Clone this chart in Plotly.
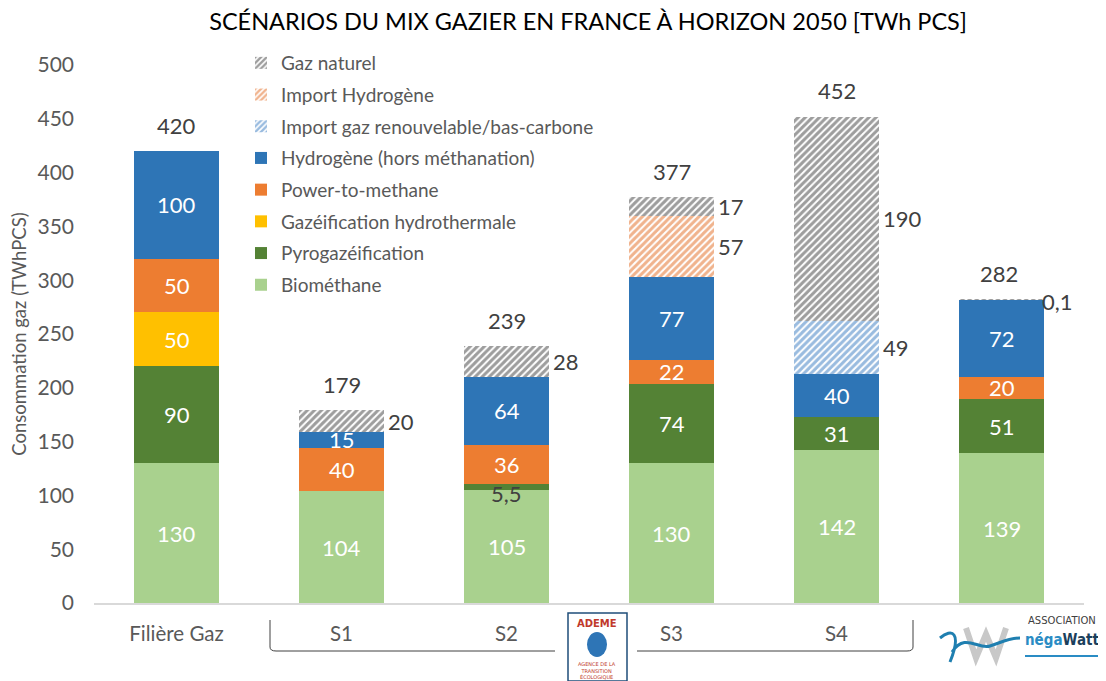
import plotly.graph_objects as go

categories = ["Filière Gaz", "S1", "S2", "S3", "S4", "négaWatt"]
tick_labels = ["Filière Gaz", "S1", "S2", "S3", "S4", " "]

biomethane = [130, 104, 105, 130, 142, 139]
pyrogazeification = [90, 0, 5.5, 74, 31, 51]
gazeification_hydro = [50, 0, 0, 0, 0, 0]
power_to_methane = [50, 40, 36, 22, 0, 20]
hydrogene = [100, 15, 64, 77, 40, 72]
import_gaz_renouv = [0, 0, 0, 0, 49, 0]
import_hydrogene = [0, 0, 0, 57, 0, 0]
gaz_naturel = [0, 20, 28, 17, 190, 0.1]

series = [
    ("Biométhane", biomethane, "#A9D18E", None),
    ("Pyrogazéification", pyrogazeification, "#548235", None),
    ("Gazéification hydrothermale", gazeification_hydro, "#FFC000", None),
    ("Power-to-methane", power_to_methane, "#ED7D31", None),
    ("Hydrogène (hors méthanation)", hydrogene, "#2E75B6", None),
    ("Import gaz renouvelable/bas-carbone", import_gaz_renouv, "#3478C0", "/"),
    ("Import Hydrogène", import_hydrogene, "#E2671C", "/"),
    ("Gaz naturel", gaz_naturel, "#3C3C3C", "/"),
]

FONT = "Lato"
OFF = 8  # page body margin offset
W, H = 1106, 681
# target plot area in screenshot pixels: x 94..1084, y 65..603
L = 94 - OFF
R = W - (1084 - OFF)
T = 65 - OFF
B = H - (603 - OFF)


def px(X):
    return (X - OFF - L) / (W - L - R)


def py(Y):
    return (H - B - (Y - OFF)) / (H - B - T)


def fmt(v):
    if float(v).is_integer():
        return str(int(v))
    return str(v).replace(".", ",")


LBL = 22
DARK = "#404040"
fig = go.Figure()
n = len(series)
for i, (name, vals, color, pat) in enumerate(series):
    if pat:
        marker = dict(color="white", pattern=dict(shape=pat, fgcolor=color, bgcolor="white",
                                                  size=5, solidity=0.6, fillmode="overlay"),
                      line=dict(width=0))
    else:
        marker = dict(color=color, line=dict(width=0))
    fig.add_trace(go.Bar(x=categories, y=vals, name=name, marker=marker,
                         legendgroup=name, legendrank=n - i, hoverinfo="x+y+name"))

annotations = []
base = [0.0] * len(categories)
for name, vals, color, pat in series:
    for j, v in enumerate(vals):
        if v > 0:
            mid = base[j] + v / 2
            if pat or v < 10:
                if name == "Pyrogazéification":
                    annotations.append(dict(x=categories[j], y=mid, xref="x", yref="y",
                                            text=fmt(v), showarrow=False, yshift=-6,
                                            font=dict(family=FONT, size=LBL, color=DARK)))
                elif name == "Gaz naturel" and v < 5:
                    annotations.append(dict(x=categories[j], y=base[j] + v, xref="x", yref="y",
                                            text=fmt(v), showarrow=False, xanchor="left",
                                            xshift=38, yshift=-2,
                                            font=dict(family=FONT, size=LBL, color=DARK)))
                else:
                    annotations.append(dict(x=categories[j], y=mid, xref="x", yref="y",
                                            text=fmt(v), showarrow=False, xanchor="left",
                                            xshift=44,
                                            font=dict(family=FONT, size=LBL, color=DARK)))
            else:
                annotations.append(dict(x=categories[j], y=mid, xref="x", yref="y",
                                        text=fmt(v), showarrow=False,
                                        font=dict(family=FONT, size=LBL, color="white")))
        base[j] += v

for j, tot in enumerate(base):
    annotations.append(dict(x=categories[j], y=tot, xref="x", yref="y", text=fmt(int(tot + 0.5)),
                            showarrow=False, yshift=26, xshift=-3 if j == 5 else 0,
                            font=dict(family=FONT, size=LBL, color=DARK)))

# ADEME / négaWatt logos (approximations)
logo_txt = dict(xref="paper", yref="paper", showarrow=False, xanchor="center", yanchor="middle")
annotations += [
    dict(x=px(597), y=py(623), text="<b>ADEME</b>",
         font=dict(family="DejaVu Sans", size=10, color="#C0392B"), **logo_txt),
    dict(x=px(597), y=py(670), text="AGENCE DE LA<br>TRANSITION<br>ÉCOLOGIQUE",
         font=dict(family="DejaVu Sans", size=5, color="#C0392B"), **logo_txt),
    dict(x=px(1062), y=py(620), text="ASSOCIATION",
         font=dict(family="DejaVu Sans", size=10, color=DARK), **logo_txt),
    dict(x=px(1062), y=py(640),
         text="<b><span style='color:#2A8CC4'>néga</span><span style='color:#1B3F5C'>Watt</span></b>",
         font=dict(family="DejaVu Sans Condensed", size=15), **logo_txt),
]

shapes = [
    dict(type="path", xref="paper", yref="paper",
         path=f"M {px(270)} {py(620)} L {px(270)} {py(647)} Q {px(270)} {py(651)} {px(276)} {py(651)} L {px(555)} {py(651)}",
         line=dict(color=DARK, width=1)),
    dict(type="path", xref="paper", yref="paper",
         path=f"M {px(637)} {py(651)} L {px(907)} {py(651)} Q {px(913)} {py(651)} {px(913)} {py(647)} L {px(913)} {py(620)}",
         line=dict(color=DARK, width=1)),
    dict(type="rect", xref="paper", yref="paper", x0=px(568), x1=px(627), y0=py(681), y1=py(613),
         line=dict(color="#1F4E79", width=1.5), fillcolor="white"),
    dict(type="circle", xref="paper", yref="paper", x0=px(587), x1=px(607), y0=py(657), y1=py(632),
         line=dict(width=0), fillcolor="#2E75B6"),
    dict(type="path", xref="paper", yref="paper",
         path=f"M {px(966)} {py(628)} L {px(976)} {py(658)} L {px(986)} {py(634)} L {px(996)} {py(658)} L {px(1006)} {py(628)}",
         line=dict(color="#C8C8C8", width=6)),
    dict(type="path", xref="paper", yref="paper",
         path=f"M {px(940)} {py(638)} C {px(952)} {py(628)} {px(962)} {py(632)} {px(950)} {py(662)} "
              f"M {px(952)} {py(652)} C {px(965)} {py(632)} {px(978)} {py(650)} {px(990)} {py(646)} "
              f"C {px(1000)} {py(643)} {px(1008)} {py(638)} {px(1020)} {py(638)}",
         line=dict(color="#1F7FB0", width=3)),
    dict(type="line", xref="paper", yref="paper", x0=px(1025), x1=px(1098), y0=py(656), y1=py(656),
         line=dict(color="#2A8CC4", width=2)),
]

fig.update_layout(
    width=W, height=H,
    margin=dict(l=L, r=R, t=T, b=B, autoexpand=False),
    paper_bgcolor="white", plot_bgcolor="white",
    barmode="stack", bargap=0.485,
    title=dict(text="SCÉNARIOS DU MIX GAZIER EN FRANCE À HORIZON 2050 [TWh PCS]",
               x=px(588), xref="paper", xanchor="center", y=1 - (22 - OFF) / H, yanchor="middle",
               font=dict(family=FONT, size=23.5, color="#000000")),
    font=dict(family=FONT, color="#595959"),
    legend=dict(x=px(241), y=py(44), xanchor="left", yanchor="top",
                bgcolor="rgba(0,0,0,0)", font=dict(family=FONT, size=19, color="#595959"),
                tracegroupgap=4, itemclick=False, itemdoubleclick=False),
    xaxis=dict(tickvals=categories, ticktext=tick_labels, showline=True, linecolor="#D9D9D9",
               linewidth=1.5, ticks="", tickfont=dict(family=FONT, size=20.5, color="#595959"),
               ticklabelstandoff=12, automargin=False,
               showgrid=False, range=[-0.5, 5.5]),
    yaxis=dict(range=[0, 500], dtick=50, showgrid=False, zeroline=False, showline=False,
               ticks="", tickfont=dict(family=FONT, size=21, color="#595959"), automargin=False,
               ticklabelstandoff=19,
               title=dict(text="Consommation gaz (TWhPCS)", standoff=14,
                          font=dict(family=FONT, size=18.5, color="#595959"))),
    annotations=annotations,
    shapes=shapes,
)

fig.write_html("out.html")
